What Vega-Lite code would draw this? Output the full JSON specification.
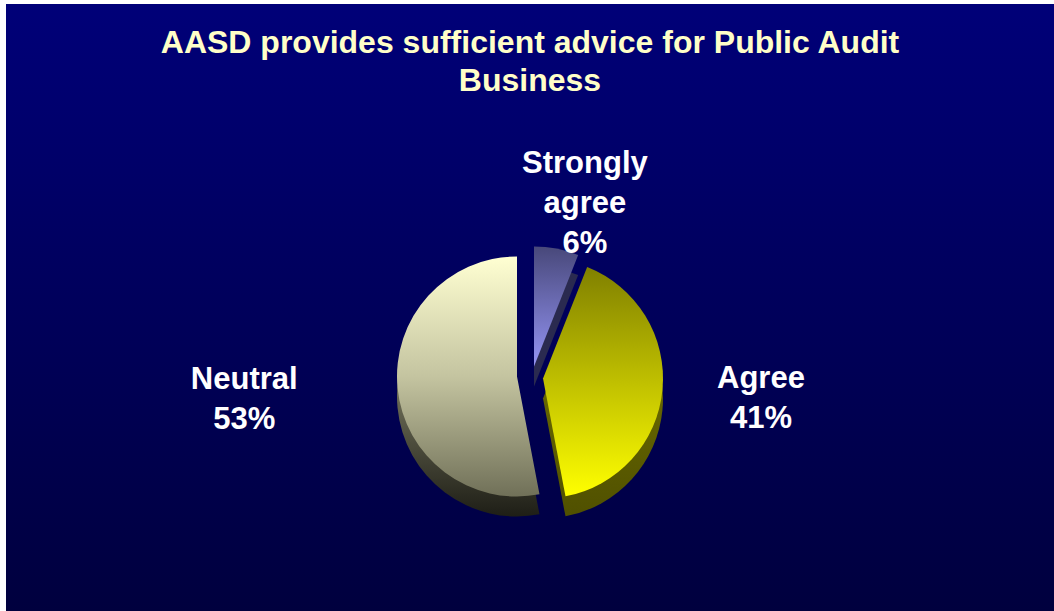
{
  "$schema": "https://vega.github.io/schema/vega-lite/v6.json",
  "width": 1054,
  "height": 611,
  "autosize": {"type": "fit", "contains": "padding"},
  "padding": {"left": 6, "top": 4, "right": 0, "bottom": 0},
  "background": "white",
  "config": {"view": {"stroke": null}},
  "title": {
    "text": ["AASD provides sufficient advice for Public Audit", "Business"],
    "color": "#FFFFC8",
    "font": "Liberation Sans",
    "fontSize": 32,
    "fontWeight": "bold",
    "lineHeight": 38,
    "anchor": "middle",
    "frame": "group",
    "baseline": "bottom",
    "offset": -126
  },
  "datasets": {
    "answers": [
      {"category": "Strongly agree", "percent": 6, "order": 1},
      {"category": "Agree", "percent": 41, "order": 2},
      {"category": "Neutral", "percent": 53, "order": 3}
    ],
    "frame": [{"name": "background"}]
  },
  "layer": [
    {
      "data": {"name": "frame"},
      "mark": {"type": "rect",
        "fill": {"gradient": "linear", "x1": 0, "y1": 0, "x2": 0, "y2": 1,
          "stops": [{"offset": 0, "color": "#000078"}, {"offset": 1, "color": "#00003e"}]}},
      "encoding": {}
    },
    {
      "data": {"name": "answers"},
      "transform": [
        {"stack": "percent", "groupby": [], "sort": [{"field": "order", "order": "ascending"}], "as": ["start", "end"]},
        {"calculate": "datum.category + ' ' + datum.percent + '%'", "as": "label"}
      ],
      "layer": [
        {
          "transform": [{"filter": "datum.category === 'Neutral'"}],
          "mark": {"type": "arc", "outerRadius": 120, "xOffset": -13, "yOffset": 89,
            "fill": {"gradient": "linear", "x1": 0, "y1": 0, "x2": 0, "y2": 1,
              "stops": [{"offset": 0, "color": "#a0a080"}, {"offset": 0.5, "color": "#6a6a55"}, {"offset": 1, "color": "#1e1e16"}]}},
          "encoding": {
            "theta": {"field": "start", "type": "quantitative", "scale": {"domain": [0, 100]}},
            "theta2": {"field": "end"}
          }
        },
        {
          "transform": [{"filter": "datum.category === 'Agree'"}],
          "mark": {"type": "arc", "outerRadius": 120, "xOffset": 13, "yOffset": 91,
            "fill": {"gradient": "linear", "x1": 0, "y1": 0, "x2": 0, "y2": 1,
              "stops": [{"offset": 0, "color": "#7a7a00"}, {"offset": 1, "color": "#505000"}]}},
          "encoding": {
            "theta": {"field": "start", "type": "quantitative", "scale": {"domain": [0, 100]}},
            "theta2": {"field": "end"}
          }
        },
        {
          "transform": [{"filter": "datum.category === 'Strongly agree'"}],
          "mark": {"type": "arc", "outerRadius": 120, "xOffset": 4, "yOffset": 79, "fill": "#2a2a50"},
          "encoding": {
            "theta": {"field": "start", "type": "quantitative", "scale": {"domain": [0, 100]}},
            "theta2": {"field": "end"}
          }
        },
        {
          "transform": [{"filter": "datum.category === 'Neutral'"}],
          "mark": {"type": "arc", "outerRadius": 120, "xOffset": -13, "yOffset": 69,
            "fill": {"gradient": "linear", "x1": 0, "y1": 0, "x2": 0, "y2": 1,
              "stops": [{"offset": 0, "color": "#FFFFD2"}, {"offset": 0.5, "color": "#c4c4a0"}, {"offset": 1, "color": "#707058"}]}},
          "encoding": {
            "theta": {"field": "start", "type": "quantitative", "scale": {"domain": [0, 100]}},
            "theta2": {"field": "end"}
          }
        },
        {
          "transform": [{"filter": "datum.category === 'Agree'"}],
          "mark": {"type": "arc", "outerRadius": 120, "xOffset": 13, "yOffset": 71,
            "fill": {"gradient": "linear", "x1": 0, "y1": 0, "x2": 0, "y2": 1,
              "stops": [{"offset": 0, "color": "#808000"}, {"offset": 1, "color": "#FFFF00"}]}},
          "encoding": {
            "theta": {"field": "start", "type": "quantitative", "scale": {"domain": [0, 100]}},
            "theta2": {"field": "end"}
          }
        },
        {
          "transform": [{"filter": "datum.category === 'Strongly agree'"}],
          "mark": {"type": "arc", "outerRadius": 120, "xOffset": 4, "yOffset": 59,
            "fill": {"gradient": "linear", "x1": 0, "y1": 0, "x2": 0, "y2": 1,
              "stops": [{"offset": 0, "color": "#48487a"}, {"offset": 1, "color": "#9494f4"}]}},
          "encoding": {
            "theta": {"field": "start", "type": "quantitative", "scale": {"domain": [0, 100]}},
            "theta2": {"field": "end"}
          }
        },
        {
          "mark": {"type": "text", "radius": 165, "xOffset": 24, "yOffset": 19, "font": "Liberation Sans", "fontSize": 31,
            "fontWeight": "bold", "color": "white", "lineBreak": " ", "lineHeight": 40,
            "baseline": "middle", "align": "center"},
          "encoding": {
            "theta": {"field": "percent", "type": "quantitative", "stack": true, "scale": {"domain": [0, 100]}},
            "order": {"field": "order", "type": "quantitative"},
            "text": {"condition": {"test": "datum.category === 'Strongly agree'", "field": "label"}, "value": ""}
          }
        },
        {
          "mark": {"type": "text", "radius": 232, "yOffset": 50, "font": "Liberation Sans", "fontSize": 31,
            "fontWeight": "bold", "color": "white", "lineBreak": " ", "lineHeight": 40,
            "baseline": "middle", "align": "center"},
          "encoding": {
            "theta": {"field": "percent", "type": "quantitative", "stack": true, "scale": {"domain": [0, 100]}},
            "order": {"field": "order", "type": "quantitative"},
            "text": {"condition": {"test": "datum.category === 'Agree'", "field": "label"}, "value": ""}
          }
        },
        {
          "mark": {"type": "text", "radius": 287, "yOffset": 45, "font": "Liberation Sans", "fontSize": 31,
            "fontWeight": "bold", "color": "white", "lineBreak": " ", "lineHeight": 40,
            "baseline": "middle", "align": "center"},
          "encoding": {
            "theta": {"field": "percent", "type": "quantitative", "stack": true, "scale": {"domain": [0, 100]}},
            "order": {"field": "order", "type": "quantitative"},
            "text": {"condition": {"test": "datum.category === 'Neutral'", "field": "label"}, "value": ""}
          }
        }
      ]
    }
  ]
}
